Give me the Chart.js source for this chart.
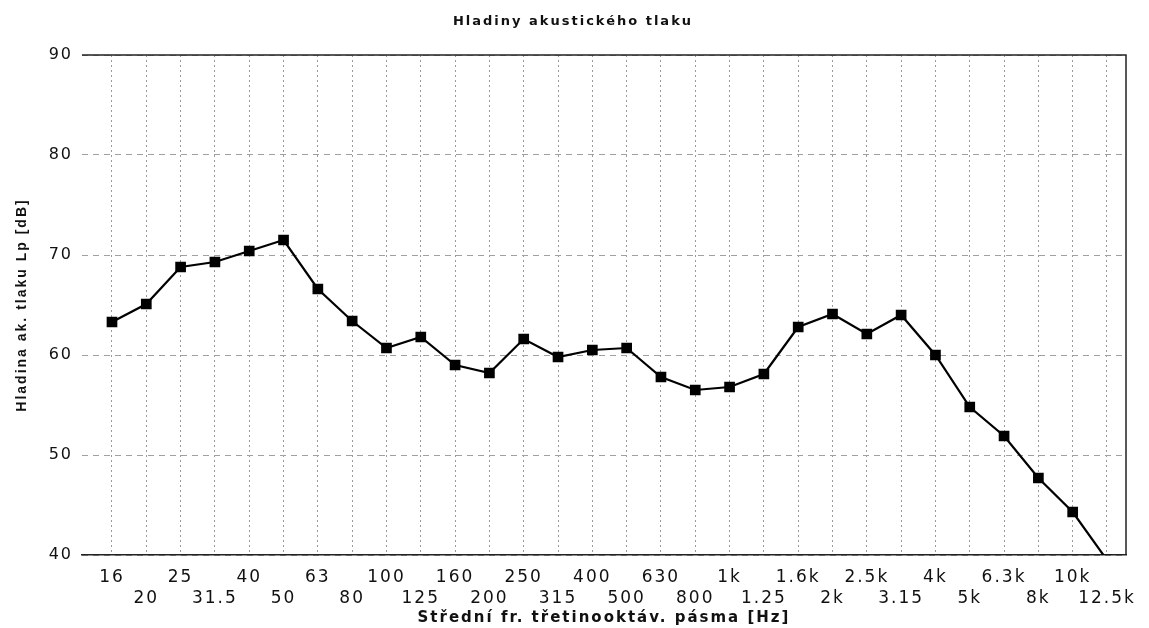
<!DOCTYPE html>
<html>
<head>
<meta charset="utf-8">
<script src="https://cdn.jsdelivr.net/npm/chart.js@4/dist/chart.umd.min.js"></script>
<style>
  html, body { margin: 0; padding: 0; background: #fff; }
  #wrap { width: 1149px; height: 628px; }
</style>
</head>
<body>
<div id="wrap"><canvas id="chart"></canvas></div>
<script>
const bands = ['16', '20', '25', '31.5', '40', '50', '63', '80', '100', '125', '160', '200',
  '250', '315', '400', '500', '630', '800', '1k', '1.25', '1.6k', '2k', '2.5k', '3.15',
  '4k', '5k', '6.3k', '8k', '10k', '12.5k'];
const levels = [63.3, 65.1, 68.8, 69.3, 70.4, 71.5, 66.6, 63.4, 60.7, 61.8, 59.0, 58.2,
  61.6, 59.8, 60.5, 60.7, 57.8, 56.5, 56.8, 58.1, 62.8, 64.1, 62.1, 64.0,
  60.0, 54.8, 51.9, 47.7, 44.3, 39.5];
const yTicks = [40, 50, 60, 70, 80, 90];

const textColor = '#111';

// frame on top and right, chart title, wide lettering like the original
const framePlugin = {
    id: 'frame',
    beforeDraw(chart) {
        chart.ctx.letterSpacing = '2px';
    },
    beforeDatasetsDraw(chart) {
        const { ctx, chartArea: a } = chart;
        ctx.save();
        ctx.strokeStyle = '#222';
        ctx.lineWidth = 1.5;
        ctx.beginPath();
        ctx.moveTo(a.left, a.top);
        ctx.lineTo(a.right, a.top);
        ctx.lineTo(a.right, a.bottom);
        ctx.stroke();
        ctx.restore();
    },
    afterDraw(chart) {
        const ctx = chart.ctx;
        ctx.save();
        ctx.letterSpacing = '2px';
        ctx.font = 'bold 13px "DejaVu Sans"';
        ctx.fillStyle = textColor;
        ctx.textAlign = 'center';
        ctx.textBaseline = 'middle';
        ctx.fillText('Hladiny akustického tlaku', 573, 22);
        ctx.restore();
        ctx.letterSpacing = '0px';
    }
};

const ctx = document.getElementById('chart').getContext('2d');

const chart = new Chart(ctx, {
    type: 'line',
    data: {
        datasets: [{
            label: 'Lp',
            data: levels.map((v, i) => ({ x: i, y: v })),
            borderColor: '#000',
            backgroundColor: '#000',
            borderWidth: 2.2,
            pointStyle: 'rect',
            pointRadius: 6,
            pointHoverRadius: 6,
            tension: 0,
            clip: 0
        }]
    },
    options: {
        responsive: true,
        maintainAspectRatio: false,
        animation: false,
        layout: {
            padding: { top: 55, right: 23, left: 0, bottom: 0 }
        },
        plugins: {
            legend: { display: false },
            tooltip: { enabled: false }
        },
        scales: {
            x: {
                type: 'linear',
                min: -0.874,
                max: 29.554,
                afterBuildTicks: (axis) => {
                    axis.ticks = bands.map((_, i) => ({ value: i }));
                },
                afterFit: (scale) => { scale.height = 73; },
                ticks: {
                    autoSkip: false,
                    maxRotation: 0,
                    padding: 12,
                    color: textColor,
                    font: { family: 'DejaVu Sans', size: 17, lineHeight: 1.25 },
                    callback: (value) => {
                        const lbl = bands[value];
                        if (lbl === undefined) return '';
                        return value % 2 === 0 ? [lbl, ''] : ['', lbl];
                    }
                },
                grid: {
                    color: '#9a9a9a',
                    lineWidth: 1,
                    drawTicks: false
                },
                border: {
                    display: true,
                    color: '#222',
                    width: 1.5,
                    dash: [2, 3]
                },
                title: {
                    display: true,
                    text: 'Střední fr. třetinooktáv. pásma [Hz]',
                    color: textColor,
                    font: { family: 'DejaVu Sans', size: 15, weight: 'bold' },
                    padding: { top: 0, bottom: 1 }
                }
            },
            y: {
                min: 40,
                max: 90,
                afterBuildTicks: (axis) => {
                    axis.ticks = yTicks.map(v => ({ value: v }));
                },
                afterFit: (scale) => { scale.width = 82; },
                ticks: {
                    padding: 9,
                    color: textColor,
                    font: { family: 'DejaVu Sans', size: 16 }
                },
                grid: {
                    color: '#a0a0a0',
                    lineWidth: 1,
                    drawTicks: false
                },
                border: { display: false, dash: [6, 5] },
                title: {
                    display: true,
                    text: 'Hladina ak. tlaku Lp [dB]',
                    color: textColor,
                    font: { family: 'Liberation Sans', size: 14, weight: 'bold' },
                    padding: { top: 14, bottom: 0 }
                }
            }
        }
    },
    plugins: [framePlugin]
});
</script>
</body>
</html>
